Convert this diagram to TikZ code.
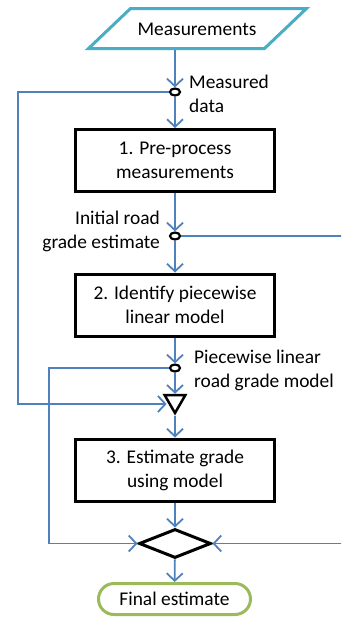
\documentclass[tikz,border=0pt]{standalone}
\usepackage{fontspec}
\setmainfont{Carlito}
\usetikzlibrary{arrows.meta,shapes.geometric,shapes.misc}
\definecolor{flowblue}{RGB}{79,129,189}
\definecolor{ioteal}{RGB}{75,172,198}
\definecolor{endgreen}{RGB}{155,187,89}
\begin{document}
\begin{tikzpicture}[x=1pt,y=-1pt,
    font=\fontsize{19.4}{24}\selectfont,
    flow/.style={flowblue, line width=1.8pt, -{Straight Barb[length=7.5pt,width=16pt]}},
    stepbox/.style={draw, line width=3pt, minimum width=199pt, minimum height=62pt, align=center, inner sep=0pt},
    tap/.style={ellipse, draw, line width=2.2pt, fill=white, minimum width=10pt, minimum height=7pt, inner sep=0pt},
    lbl/.style={inner sep=0pt}]
      \useasboundingbox (0,0) rectangle (341,621);
      \clip (0,0) rectangle (341,621);
      \draw[ioteal, line width=3pt] (88.5,48.5) -- (130.5,8.5) -- (306.5,8.5) -- (264.5,48.5) -- cycle;
      \node[inner sep=0pt] (meas) at (197,29) {Measurements};
      \coordinate (mbot) at (175,50);
      \node[tap] (d1) at (175,92) {};
      \node[stepbox] (p1) at (175,160.5) {1. Pre-process\\measurements};
      \node[tap] (d2) at (175,236) {};
      \node[stepbox] (p2) at (175,305) {2. Identify piecewise\\linear model};
      \node[tap] (d3) at (175,368) {};
      \node[regular polygon, regular polygon sides=3, shape border rotate=180, draw, line width=2.5pt, minimum size=24pt, inner sep=0pt] (tri) at (175,401) {};
      \node[stepbox] (p3) at (175,470) {3. Estimate grade\\using model};
      \node[diamond, draw, line width=3pt, minimum width=72pt, minimum height=29pt, inner sep=0pt] (dec) at (175,543.5) {};
      \node[rounded rectangle, draw=endgreen, line width=3pt, minimum width=152pt, minimum height=31pt, inner sep=0pt] (fin) at (174.5,599) {Final estimate};
      \node[lbl, anchor=west, align=left] (ldata) at (189,94) {Measured\\data};
      \node[lbl, anchor=east, align=right] (linit) at (160,231) {Initial road\\grade estimate};
      \node[lbl, anchor=west, align=left] (lmodel) at (194,370) {Piecewise linear\\road grade model};
      \coordinate (lefta) at (18,0);
      \coordinate (leftb) at (49,0);
      \coordinate (rightc) at (348,0);
      \draw[flow] (mbot) -- (d1);
      \draw[flow] (d1) -- (p1);
      \draw[flow] (p1) -- (d2);
      \draw[flow] (d2) -- (p2);
      \draw[flow] (p2) -- (d3);
      \draw[flow] (d3) -- (tri);
      \draw[flow] (tri) -- (p3);
      \draw[flow] (p3) -- (dec);
      \draw[flow] (dec) -- (fin);
      \draw[flow] (d1.west) -- (d1.west -| lefta) -- ([yshift=-3pt]lefta |- tri.west) -- ([yshift=-3pt]tri.west);
      \draw[flow] (d3.west) -- (d3.west -| leftb) -- (leftb |- dec.west) -- (dec.west);
      \draw[flow] (d2.east) -- (d2.east -| rightc) -- (rightc |- dec.east) -- (dec.east);
\end{tikzpicture}
\end{document}
